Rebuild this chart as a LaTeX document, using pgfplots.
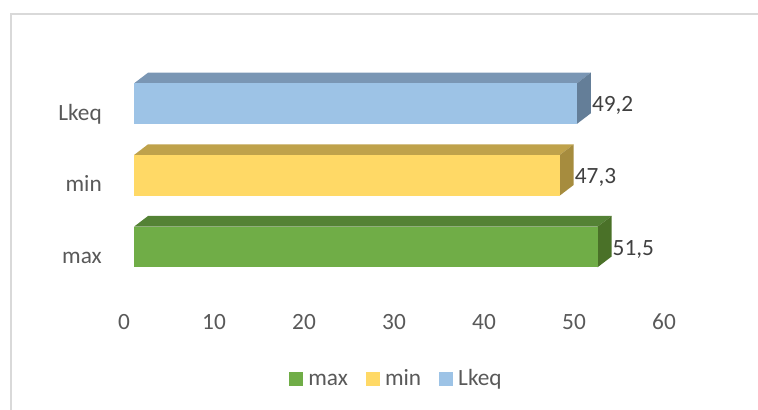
\documentclass[border=0pt]{standalone}
\usepackage{pgfplots}
\usepackage{pgfplotstable}
\pgfplotsset{compat=1.18}
\usepackage{fontspec}
\setmainfont{Carlito}

\definecolor{greenF}{HTML}{70AD47}
\definecolor{greenT}{HTML}{548235}
\definecolor{greenS}{HTML}{4A7128}
\definecolor{yellowF}{HTML}{FFD966}
\definecolor{yellowT}{HTML}{BFA24B}
\definecolor{yellowS}{HTML}{A68C3E}
\definecolor{blueF}{HTML}{9DC3E6}
\definecolor{blueT}{HTML}{7A96B4}
\definecolor{blueS}{HTML}{647E98}
\definecolor{tickgray}{HTML}{595959}
\definecolor{labelgray}{HTML}{404040}
\definecolor{bordergray}{HTML}{D9D9D9}

\pgfplotstableread{
pos value
0 51.5
}\maxdata
\pgfplotstableread{
pos value
1 47.3
}\mindata
\pgfplotstableread{
pos value
2 49.2
}\lkeqdata

% depth of the 3D bars in axis units: dx = 14bp, dy = 10.7bp; half bar height = 20.3bp
\newcommand{\bardepth}[3]{%
  \pgfplotstablegetelem{0}{value}\of#1\let\bv\pgfplotsretval
  \pgfplotstablegetelem{0}{pos}\of#1\let\bp\pgfplotsretval
  \pgfmathsetmacro\xa{\bv}%
  \pgfmathsetmacro\xb{\bv+1.5556}%
  \pgfmathsetmacro\ylo{\bp-0.2833}%
  \pgfmathsetmacro\yhi{\bp+0.2833}%
  \pgfmathsetmacro\ytop{\bp+0.2833+0.1493}%
  \pgfmathsetmacro\ylotop{\bp-0.2833+0.1493}%
  \addplot[fill=#2, draw=none, forget plot] coordinates {(0,\yhi) (\xa,\yhi) (\xb,\ytop) (1.5556,\ytop)};
  \addplot[fill=#3, draw=none, forget plot] coordinates {(\xa,\ylo) (\xb,\ylotop) (\xb,\ytop) (\xa,\yhi)};
}

\pgfplotsset{
  frontbar/.style={xbar, fill=#1, draw=none, bar width=40.6bp, bar shift=0pt,
    point meta=x,
    nodes near coords={\pgfmathprintnumber[use comma,fixed,precision=1]{\pgfplotspointmeta}},
    nodes near coords style={anchor=base west, inner sep=0pt, xshift=15bp, yshift=-8.3bp, text=labelgray},
    legend image code/.code={\fill[#1] (0bp,-6bp) rectangle (14bp,8bp);}},
}

\begin{document}
\fontsize{23.3bp}{28bp}\selectfont
\begin{tikzpicture}[font=\fontsize{23.3bp}{28bp}\selectfont]
\draw[bordergray, line width=1.3bp] (11bp,0bp) -- (11bp,396bp) -- (758bp,396bp);
\begin{axis}[
  at={(134bp,80.7bp)}, anchor=south west,
  x=9bp, y=71.65bp,
  xmin=0, xmax=60, ymin=-1.1487, ymax=2.6,
  enlargelimits=false, clip=false,
  axis line style={draw=none},
  tick style={draw=none}, major tick length=0pt,
  xtick={0,10,...,60},
  ytick={0,1,2}, yticklabels={max,min,Lkeq},
  /pgf/number format/assume math mode=true,
  xticklabel style={anchor=base, inner sep=0pt, xshift=-10bp, text=tickgray},
  yticklabel style={anchor=base east, inner sep=0pt, xshift=-32bp, yshift=-16.5bp, text=tickgray},
  legend columns=3,
  legend cell align=left,
  legend style={at={(0.4843,-0.1887)}, anchor=center, draw=none, fill=none,
    inner sep=0pt, column sep=0pt,
    nodes={inner sep=0pt, text height=16bp, text depth=5bp, text=tickgray}},
]
\bardepth{\maxdata}{greenT}{greenS}
\bardepth{\mindata}{yellowT}{yellowS}
\bardepth{\lkeqdata}{blueT}{blueS}

\addplot[frontbar=greenF] table[x=value, y=pos] {\maxdata};
\addlegendentry{\kern5bp max\kern18bp}
\addplot[frontbar=yellowF] table[x=value, y=pos] {\mindata};
\addlegendentry{\kern5bp min\kern18bp}
\addplot[frontbar=blueF] table[x=value, y=pos] {\lkeqdata};
\addlegendentry{\kern5bp Lkeq}
\end{axis}
\pgfresetboundingbox
\path (0bp,0bp) rectangle (758bp,410bp);
\end{tikzpicture}
\end{document}
